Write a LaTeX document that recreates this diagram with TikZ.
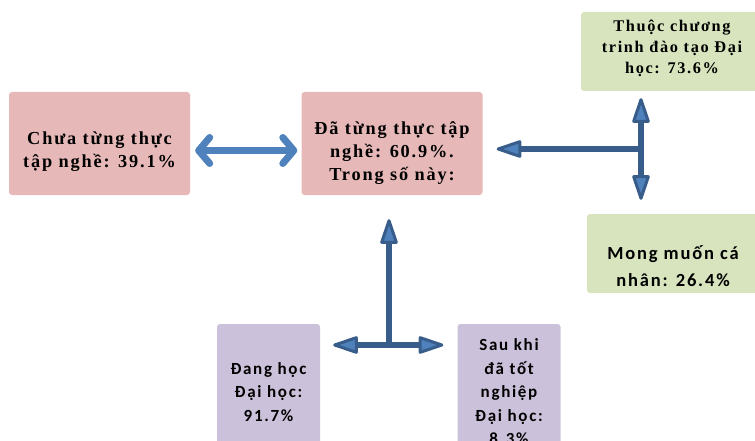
\documentclass[tikz,border=0pt]{standalone}
\usepackage{fontspec}
\newfontfamily\boxserif[LetterSpace=10]{Liberation Serif}
\newfontfamily\boxsans[LetterSpace=10]{Carlito}
\usetikzlibrary{arrows.meta}
\definecolor{pinkfill}{HTML}{E6B9B8}
\definecolor{greenfill}{HTML}{D7E4BD}
\definecolor{purplefill}{HTML}{CCC1DA}
\definecolor{lightblue}{HTML}{4F81BD}
\definecolor{darkblue}{HTML}{385D8A}
% pushes a box's lines down (or up) a little
\newcommand{\dropstrut}[1]{\rule{0pt}{#1}}
\newcommand{\liftstrut}[1]{\rule[-#1]{0pt}{#1}}

\begin{document}
\begin{tikzpicture}[x=1pt, y=-1pt,
                    box_style/.style={rounded corners=3pt, align=center, inner sep=0pt},
                    pink_box/.style={box_style, fill=pinkfill, minimum width=181pt, minimum height=103pt,
                                     font=\boxserif\bfseries\fontsize{18.3}{23}\selectfont},
                    green_box/.style={box_style, fill=greenfill, minimum height=79pt},
                    purple_box/.style={box_style, fill=purplefill, minimum width=103pt, minimum height=136pt,
                                       font=\boxsans\bfseries\fontsize{17}{23.5}\selectfont},
                    light_edge/.style={line width=7pt, draw=lightblue, <->,
                                       >={Straight Barb[length=11pt, width=26pt, round]}},
                    dark_edge/.style={line width=6pt, draw=darkblue,
                                      >={Triangle[length=28pt, width=18pt, line width=3pt, fill=lightblue, round]}}
   ]
   \useasboundingbox (0,0) rectangle (755,441);
   \clip (0,0) rectangle (755,441);
   \node[pink_box] (chua) at (99.5,143.5) {\dropstrut{30pt}Chưa từng thực\\tập nghề: 39.1\%};
   \node[pink_box] (datung) at (392,143.5) {\dropstrut{32pt}Đã từng thực tập\\nghề: 60.9\%.\\Trong số này:};
   \node[green_box, minimum width=182pt, font=\boxserif\bfseries\fontsize{16.3}{21}\selectfont]
        (thuoc) at (672,51.5) {Thuộc chương\\trinh đào tạo Đại\\học: 73.6\%\liftstrut{10pt}};
   \node[green_box, minimum width=172pt, font=\boxsans\bfseries\fontsize{18.5}{27}\selectfont]
        (mong) at (673,253.5) {\dropstrut{40pt}Mong muốn cá\\nhân: 26.4\%};
   \node[purple_box] (danghoc) at (268.5,392) {Đang học\\Đại học:\\91.7\%};
   \node[purple_box] (saukhi) at (509,392) {Sau khi\\đã tốt\\nghiệp\\Đại học:\\8.3\%};
   % Junctions
   \coordinate (tj) at (641,149);
   \coordinate (bj) at (389,345);

    \draw[light_edge, shorten <=5pt, shorten >=4pt] ([yshift=-7pt]chua.east) -- ([yshift=-7pt]datung.west);
    \draw[dark_edge, ->, shorten >=14pt] (tj) -- (tj -| datung.east);
    \draw[dark_edge, <->, shorten <=7pt, shorten >=14pt] (tj |- thuoc.south) -- (tj |- mong.north);
    \draw[dark_edge, ->, shorten >=24pt] (bj) -- (bj |- datung.south);
    \draw[dark_edge, <->, shorten <=13pt, shorten >=14pt] (bj -| danghoc.east) -- (bj -| saukhi.west);
    \end{tikzpicture}
\end{document}
